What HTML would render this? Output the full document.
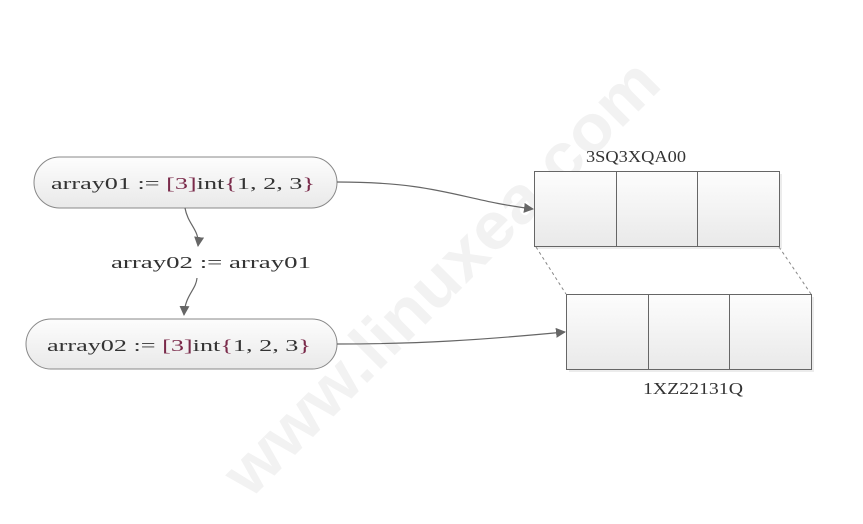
<!DOCTYPE html>
<html><head><meta charset="utf-8"><style>html,body{margin:0;padding:0;background:#fff}svg{display:block}</style></head>
<body>
<svg width="863" height="524" viewBox="0 0 863 524" xmlns="http://www.w3.org/2000/svg">
<defs>
<linearGradient id="g" x1="0" y1="0" x2="0" y2="1"><stop offset="0" stop-color="#fdfdfd"/><stop offset="1" stop-color="#e9e9e9"/></linearGradient>
<marker id="a" markerWidth="10" markerHeight="10" refX="9" refY="5" orient="auto" markerUnits="userSpaceOnUse"><path d="M0,0 L10,5 L0,10 Z" fill="#666"/></marker>
</defs>
<text x="0" y="0" transform="translate(250,500) rotate(-45)" font-family="Liberation Sans, sans-serif" font-size="66" font-weight="bold" fill="#f2f2f2" textLength="585" lengthAdjust="spacingAndGlyphs">www.linuxea.com</text>
<g font-family="Liberation Serif, 'Noto Serif CJK SC', serif" font-size="17" fill="#333">
<rect x="34" y="157" width="303" height="51" rx="25.5" fill="url(#g)" stroke="#888"/>
<rect x="26" y="319" width="311" height="50" rx="25" fill="url(#g)" stroke="#888"/>
<text x="51" y="189" textLength="264" lengthAdjust="spacingAndGlyphs">array01 := <tspan fill="#7a2a4a">[3]</tspan>int<tspan fill="#7a2a4a">{</tspan>1, 2, 3<tspan fill="#7a2a4a">}</tspan></text>
<text x="47" y="351" textLength="264" lengthAdjust="spacingAndGlyphs">array02 := <tspan fill="#7a2a4a">[3]</tspan>int<tspan fill="#7a2a4a">{</tspan>1, 2, 3<tspan fill="#7a2a4a">}</tspan></text>
<text x="111" y="268" textLength="200" lengthAdjust="spacingAndGlyphs">array02 := array01</text>
<text x="586" y="162" textLength="100" lengthAdjust="spacingAndGlyphs">3SQ3XQA00</text>
<text x="643" y="394" textLength="100" lengthAdjust="spacingAndGlyphs">1XZ22131Q</text>
</g>
<g fill="#ececec"><rect x="537" y="174" width="245" height="75"/><rect x="569" y="297" width="245" height="75"/></g>
<g stroke="#666" fill="url(#g)">
<rect x="534.5" y="171.5" width="245" height="75"/><line x1="616.5" y1="171" x2="616.5" y2="246"/><line x1="697.5" y1="171" x2="697.5" y2="246"/>
<rect x="566.5" y="294.5" width="245" height="75"/><line x1="648.5" y1="294" x2="648.5" y2="369"/><line x1="729.5" y1="294" x2="729.5" y2="369"/>
</g>
<g stroke="#888" stroke-dasharray="3,3" fill="none"><line x1="536" y1="247" x2="566" y2="294"/><line x1="779" y1="247" x2="811" y2="294"/></g>
<g stroke="#666" stroke-width="1.2" fill="none" marker-end="url(#a)">
<path d="M337,182 C440,182 460,200 533,209"/>
<path d="M337,344 C420,344 480,340 565,332"/>
<path d="M185,208 C188,225 200,230 198,246"/>
<path d="M197,278 C196,290 185,295 184,315"/>
</g>
</svg>
</body></html>
